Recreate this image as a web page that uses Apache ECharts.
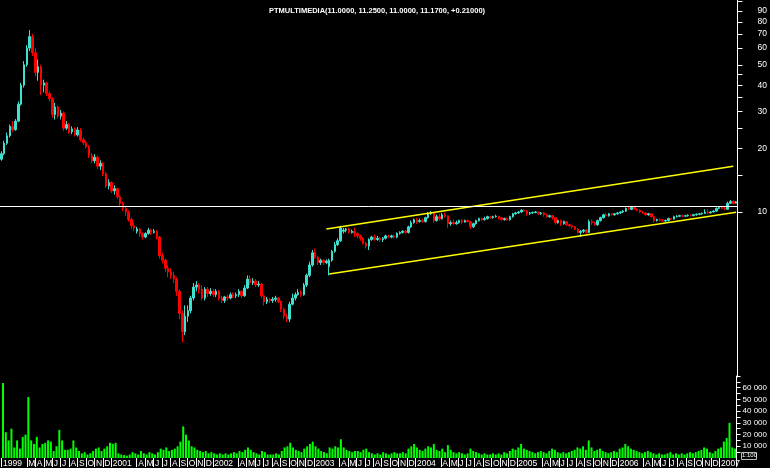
<!DOCTYPE html>
<html><head><meta charset="utf-8">
<script src="https://cdn.jsdelivr.net/npm/echarts@6/dist/echarts.min.js"></script>
<style>html,body{margin:0;padding:0;background:#000}#c{width:770px;height:468px}</style>
</head><body><div id="c"></div>
<script>
const titleText = 'PTMULTIMEDIA(11.0000, 11.2500, 11.0000, 11.1700, +0.21000)';
// one entry per month, Dec 1999 .. Feb 2007
const monthLabels = ['1999',
 '2000','F','M','A','M','J','J','A','S','O','N','D',
 '2001','F','M','A','M','J','J','A','S','O','N','D',
 '2002','F','M','A','M','J','J','A','S','O','N','D',
 '2003','F','M','A','M','J','J','A','S','O','N','D',
 '2004','F','M','A','M','J','J','A','S','O','N','D',
 '2005','F','M','A','M','J','J','A','S','O','N','D',
 '2006','F','M','A','M','J','J','A','S','O','N','D',
 '2007','F'];
const hiddenMonthLabels = [1,2,14,15,26,27,38,39,50,51,62,63,74,75,86];
const candlesPerMonth = 3;
// [open, close, low, high]
const candles = [
[17.8,18.9,17.5,19.4],[18.9,21.2,18.6,21.8],[21.2,23.0,20.8,23.8],
[23.0,25.5,22.6,26.0],[25.5,24.6,24.0,27.0],[24.6,27.0,24.3,27.6],
[27.0,32.5,26.8,33.5],[32.5,40,32,41],[40,50,39,52],
[50,60,49,62],[60,68,58,73],[68,57,55,70],
[57,46,44,60],[46,49,42,53],[49,40,36,50],
[40,41,37,42.5],[41,36.5,35.5,41.5],[36.5,34.5,33.5,37.5],
[34.5,29,28,35],[29,31.5,27.5,33],[31.5,28.5,27.8,32],
[28.5,29.5,27.5,30.5],[29.5,25,24.2,30],[25,26,24.5,27],
[26,24,23.5,26.5],[24,24.8,23.4,25.5],[24.8,23.2,22.8,25.2],
[23.2,24.5,22.8,25.3],[24.5,22,21.6,25],[22,21.3,20.8,22.6],
[21.3,20.4,20,21.8],[20.4,18.5,18,20.8],[18.5,17.5,17,19],
[17.5,18.2,17,18.8],[18.2,16.5,16,18.5],[16.5,17,15.8,17.6],
[17,15.2,14.8,17.3],[15.2,13.3,13,15.5],[13.3,13.8,12.8,14.3],
[13.8,12.6,12.3,14],[12.6,12.9,12.1,13.4],[12.9,11.8,11.5,13],
[11.8,11,10.7,12],[11,10.4,10.1,11.2],[10.4,10,9.6,10.7],
[10,9.2,9,10.2],[9.2,8.6,8.3,9.4],[8.6,8.4,8.1,8.9],
[8.1,8.3,7.9,8.5],[8.3,7.9,7.6,8.4],[7.9,7.6,7.4,8.0],
[7.6,7.9,7.5,8.0],[7.9,8.2,7.8,8.4],[8.2,8.0,7.8,8.3],
[8.0,8.1,7.9,8.3],[8.1,7.6,7.4,8.2],[7.6,6.2,6.0,7.7],
[6.2,5.9,5.7,6.4],[5.9,5.4,5.2,6.0],[5.4,5.2,4.9,5.6],
[5.2,5.0,4.8,5.4],[5.0,4.8,4.6,5.2],[4.8,4.2,4.0,4.9],
[4.2,3.3,3.1,4.3],[3.3,2.7,2.4,3.4],[2.7,3.2,2.6,3.6],
[3.2,3.4,3.0,3.6],[3.4,3.9,3.3,4.0],[3.9,4.4,3.8,4.6],
[4.4,4.5,4.2,4.7],[4.5,4.3,4.1,4.6],[4.3,3.9,3.8,4.5],
[3.9,4.3,3.8,4.4],[4.3,4.1,3.95,4.4],[4.1,4.2,4.0,4.35],
[4.2,4.05,3.95,4.3],[4.05,4.2,3.95,4.3],[4.2,3.9,3.8,4.25],
[3.9,3.8,3.7,4.0],[3.8,3.95,3.7,4.0],[3.95,3.9,3.8,4.05],
[3.9,4.05,3.85,4.15],[4.05,4.0,3.9,4.15],[4.0,4.05,3.9,4.15],
[4.05,4.2,3.95,4.3],[4.2,4.0,3.9,4.25],[4.0,4.35,3.95,4.5],
[4.35,4.8,4.3,5.0],[4.8,4.6,4.5,5.0],[4.6,4.7,4.5,4.85],
[4.7,4.5,4.4,4.8],[4.5,4.55,4.4,4.7],[4.55,4.0,3.9,4.6],
[4.0,3.75,3.6,4.05],[3.75,3.85,3.65,3.95],[3.85,3.8,3.7,3.9],
[3.8,3.85,3.7,3.95],[3.85,3.9,3.75,4.0],[3.9,3.75,3.7,3.95],
[3.75,3.45,3.35,3.8],[3.45,3.2,3.1,3.5],[3.2,3.1,3.0,3.3],
[3.1,3.65,3.0,3.75],[3.65,3.9,3.6,4.1],[3.9,4.05,3.8,4.15],
[4.05,4.15,4.0,4.3],[4.15,4.05,3.95,4.25],[4.05,4.5,4.0,4.6],
[4.5,5.0,4.4,5.1],[5.0,5.6,4.9,5.8],[5.6,6.4,5.5,6.6],
[6.4,6.1,6.0,6.7],[6.1,5.75,5.6,6.2],[5.75,5.9,5.6,6.0],
[5.9,5.75,5.6,5.95],[5.75,5.85,5.65,5.95],[5.5,5.9,5.0,6.0],
[5.9,6.5,5.8,6.6],[6.5,7.0,6.4,7.2],[7.0,7.3,6.9,7.5],
[7.3,8.4,7.2,8.6],[8.1,8.2,7.9,8.4],[8.2,8.3,8.0,8.4],
[8.3,8.0,7.9,8.4],[8.0,8.1,7.9,8.25],[8.1,7.9,7.6,8.4],
[7.9,7.7,7.5,8.0],[7.7,7.5,7.3,7.8],[7.5,7.1,7.0,7.6],
[7.1,6.9,6.7,7.2],[6.9,7.4,6.6,7.5],[7.4,7.6,7.3,7.7],
[7.6,7.4,7.3,7.8],[7.4,7.5,7.3,7.7],[7.5,7.4,7.2,7.6],
[7.4,7.5,7.2,7.6],[7.5,7.7,7.4,7.8],[7.7,7.6,7.5,7.8],
[7.6,7.7,7.5,7.8],[7.7,7.6,7.5,7.8],[7.6,7.9,7.5,8.0],
[7.9,8.0,7.8,8.1],[8.0,8.1,7.9,8.2],[8.1,8.0,7.9,8.2],
[8.0,8.5,7.9,8.6],[8.5,8.9,8.4,9.1],[8.9,9.2,8.8,9.3],
[9.2,9.0,8.8,9.4],[9.0,9.1,8.9,9.3],[9.1,9.0,8.9,9.3],
[9.0,9.4,8.9,9.5],[9.4,9.8,9.3,10.0],[9.8,9.9,9.7,10.1],
[9.9,9.1,8.9,10.0],[9.1,9.5,9.0,9.7],[9.5,9.3,9.1,9.8],
[9.3,9.7,9.2,9.9],[9.7,9.6,9.4,9.9],[9.6,8.8,8.4,9.6],
[8.8,8.9,8.6,9.1],[8.9,8.8,8.7,9.2],[8.8,8.9,8.7,9.1],
[8.9,9.1,8.8,9.2],[9.1,8.95,8.8,9.25],[8.95,9.1,8.9,9.2],
[9.1,9.0,8.9,9.2],[9.0,8.5,8.3,9.05],[8.5,8.8,8.4,8.9],
[8.8,9.1,8.7,9.2],[9.1,9.3,9.0,9.4],[9.3,9.2,9.1,9.4],
[9.2,9.3,9.1,9.5],[9.3,9.5,9.2,9.6],[9.5,9.4,9.3,9.6],
[9.4,9.5,9.3,9.6],[9.5,9.55,9.4,9.7],[9.55,9.4,9.2,9.6],
[9.4,9.2,9.1,9.5],[9.2,9.3,9.1,9.4],[9.3,9.2,9.1,9.4],
[9.2,9.5,9.1,9.6],[9.5,9.8,9.4,9.9],[9.8,9.9,9.7,10.0],
[9.9,10.0,9.8,10.1],[10.0,10.2,9.9,10.3],[10.2,10.1,10.0,10.3],
[10.1,9.8,9.6,10.2],[9.8,9.9,9.7,10.0],[9.9,9.95,9.8,10.05],
[9.95,10.0,9.85,10.1],[10.0,9.8,9.7,10.05],[9.8,9.9,9.7,10.0],
[9.9,9.7,9.5,10.0],[9.7,9.5,9.4,9.8],[9.5,9.6,9.4,9.7],
[9.6,9.4,9.2,9.7],[9.4,8.9,8.7,9.45],[8.9,9.1,8.8,9.2],
[9.1,8.8,8.6,9.2],[8.8,9.0,8.7,9.1],[9.0,8.7,8.6,9.05],
[8.7,8.6,8.45,8.8],[8.6,8.5,8.3,8.7],[8.5,8.3,8.2,8.55],
[8.3,8.0,7.9,8.35],[8.0,8.1,7.6,8.2],[8.1,8.2,7.95,8.3],
[8.2,8.0,7.9,8.3],[8.0,9.0,7.95,9.2],[9.0,8.9,8.7,9.2],
[8.9,8.7,8.6,9.0],[8.7,9.1,8.6,9.2],[9.1,9.4,9.0,9.5],
[9.4,9.7,9.3,9.8],[9.7,9.6,9.5,9.9],[9.6,9.8,9.5,9.9],
[9.8,9.7,9.6,9.9],[9.7,9.8,9.6,9.9],[9.8,9.9,9.7,10.0],
[9.9,10.0,9.8,10.1],[10.0,10.1,9.9,10.2],[10.1,10.4,10.0,10.5],
[10.4,10.3,10.2,10.6],[10.3,10.5,10.2,10.6],[10.5,10.3,10.2,10.6],
[10.3,10.2,10.1,10.4],[10.2,10.0,9.9,10.3],[10.0,9.9,9.8,10.1],
[9.9,9.7,9.6,10.0],[9.7,9.8,9.6,9.9],[9.8,9.5,9.4,9.85],
[9.5,9.1,8.9,9.55],[9.1,9.2,9.0,9.3],[9.2,9.15,9.0,9.3],
[9.15,9.05,9.0,9.25],[9.05,9.1,8.95,9.2],[9.1,9.3,9.0,9.4],
[9.3,9.25,9.15,9.35],[9.25,9.5,9.2,9.6],[9.5,9.55,9.4,9.65],
[9.55,9.6,9.45,9.7],[9.6,9.55,9.45,9.7],[9.55,9.6,9.5,9.7],
[9.6,9.65,9.5,9.75],[9.65,9.6,9.5,9.75],[9.6,9.7,9.55,9.8],
[9.7,9.75,9.6,9.85],[9.75,9.8,9.65,9.9],[9.8,9.85,9.7,9.95],
[9.85,10.0,9.8,10.3],[10.0,9.9,9.8,10.3],[9.9,10.0,9.85,10.1],
[10.0,10.1,9.95,10.2],[10.1,10.4,10.0,10.5],[10.4,10.5,10.3,10.6],
[10.5,10.4,10.3,10.7],[10.4,10.3,10.2,10.6],[10.3,11.0,10.25,11.2],
[11.0,11.2,10.9,11.4],[11.2,10.96,10.9,11.35],[11.0,11.17,11.0,11.25]
];
// volume in hundreds (scale 1:100)
const volumes = [
64000,22000,15000,25000,9000,15000,8000,18000,20000,52000,
15000,12000,18000,9000,12000,13000,15000,14000,6000,10000,
24000,15000,7000,7000,8000,15000,9000,6000,4000,5000,
3000,4000,6000,8000,9000,6000,8000,10000,13000,12000,
13000,4000,3000,2500,2000,3000,5000,4000,3000,6000,
4000,3000,5000,4000,3000,5000,8000,7000,9000,6000,
7000,8000,10000,14000,27000,20000,15000,10000,9000,7000,
6000,5000,6000,4000,5000,4000,3000,4000,3000,4000,
3000,4000,5000,4000,6000,5000,7000,9000,7000,5000,
4000,3000,6000,5000,3000,3000,3000,4000,3000,6000,
9000,10000,13000,9000,7000,6000,5000,8000,10000,12000,
14000,10000,8000,6000,5000,4000,9000,8000,10000,9000,
16000,9000,7000,6000,5000,6000,6000,5000,7000,8000,
5000,4000,3000,4000,3000,5000,4000,3000,4000,5000,
4000,4000,5000,4000,8000,10000,12000,9000,7000,6000,
8000,10000,9000,12000,7000,6000,8000,5000,11000,7000,
5000,4000,5000,4000,3000,4000,8000,6000,5000,4000,
3000,4000,3000,3000,4000,3000,4000,3000,5000,4000,
6000,8000,7000,9000,12000,8000,7000,6000,5000,4000,
5000,6000,5000,4000,6000,8000,7000,5000,4000,5000,
4000,5000,6000,7000,9000,8000,10000,7000,15000,9000,
6000,7000,8000,6000,5000,4000,5000,6000,5000,8000,
9000,12000,10000,8000,7000,6000,5000,4000,5000,6000,
5000,4000,3000,4000,3000,3000,4000,5000,3000,4000,
3000,4000,3000,4000,5000,4000,5000,6000,7000,9000,
8000,5000,4000,6000,8000,9000,14000,17000,30000,9000,
8000
];
const priceTickValues = [10,15,20,25,30,35,40,45,50,60,70,80,90,100];
const priceLabelValues = [10,20,30,40,50,60,70,80,90];
const volumeTickValues = [5000,10000,15000,20000,25000,30000,35000,40000,45000,50000,55000,60000,65000,70000];
const volumeLabelValues = [10000,20000,30000,40000,50000,60000];
const channelUpper = [[115, 8.30], [259, 16.5]];
const channelLower = [[116, 5.08], [260, 9.98]];
const referenceLevel = 10.68;

const cats = [], labelAt = {};
monthLabels.forEach((lab, m) => {
  for (let k = 0; k < candlesPerMonth; k++) {
    const idx = cats.length;
    cats.push(m + '-' + k);
    if (k === 0 && hiddenMonthLabels.indexOf(m) < 0) labelAt[idx] = lab;
  }
});
const shown = (i) => labelAt[i] !== undefined;
const FONT = "'Liberation Sans','Arial',sans-serif";
const fmtThousands = (v) => {
  const s = String(Math.round(v));
  return s.length > 3 ? s.slice(0, s.length - 3) + ' ' + s.slice(-3) : s;
};

const chart = echarts.init(document.getElementById('c'), null, {renderer: 'canvas'});
chart.setOption({
  backgroundColor: '#000',
  animation: false,
  title: {text: titleText, left: 264, top: 2, textStyle: {color: '#fff', fontSize: 7.5, fontWeight: 'bold', fontFamily: FONT}},
  grid: [
    {left: 0, right: 30, top: 0, height: 377},
    {left: 0, right: 30, top: 376, height: 83}
  ],
  xAxis: [
    {type: 'category', gridIndex: 0, data: cats, boundaryGap: true, show: false},
    {type: 'category', gridIndex: 1, data: cats, boundaryGap: true,
     axisLine: {show: false},
     axisTick: {show: true, interval: (i) => shown(i), length: 9, lineStyle: {color: '#fff'}},
     axisLabel: {interval: (i) => shown(i), formatter: (v, i) => labelAt[i] || '', color: '#fff', fontSize: 8.5,
       fontFamily: FONT, align: 'left', margin: 1}}
  ],
  yAxis: [
    {type: 'log', gridIndex: 0, position: 'right', min: 1.646, max: 101.5, logBase: 10,
     axisLine: {show: true, lineStyle: {color: '#fff'}},
     axisTick: {show: true, customValues: priceTickValues, length: 5, lineStyle: {color: '#fff'}},
     axisLabel: {customValues: priceLabelValues, color: '#fff', fontSize: 8.5, fontFamily: FONT, margin: 20},
     splitLine: {show: false}},
    {type: 'value', gridIndex: 1, position: 'right', min: 0, max: 70000,
     axisLine: {show: true, lineStyle: {color: '#fff'}},
     axisTick: {show: true, customValues: volumeTickValues, length: 4, lineStyle: {color: '#fff'}},
     axisLabel: {customValues: volumeLabelValues, color: '#fff', fontSize: 8, fontFamily: FONT, margin: 6,
       formatter: fmtThousands},
     splitLine: {show: false}}
  ],
  graphic: [
    {type: 'rect', left: 741, top: 452, shape: {width: 15, height: 7}, style: {fill: '#000', stroke: '#bbb', lineWidth: 1}},
    {type: 'text', left: 742, top: 452, style: {text: '1:100', fill: '#fff', fontSize: 6, fontFamily: FONT}}
  ],
  series: [
    {type: 'candlestick', xAxisIndex: 0, yAxisIndex: 0, data: candles, barWidth: 2,
     itemStyle: {color: '#40E0D0', color0: '#FF0000', borderColor: '#40E0D0', borderColor0: '#FF0000', borderWidth: 1},
     markLine: {silent: true, symbol: ['none', 'none'], label: {show: false}, animation: false,
       data: [
         [{coord: channelUpper[0]}, {coord: channelUpper[1]}],
         [{coord: channelLower[0]}, {coord: channelLower[1]}],
         {yAxis: referenceLevel, lineStyle: {color: '#fff', width: 1, type: 'solid'}}
       ],
       lineStyle: {color: '#FFFF00', width: 1.5, type: 'solid'}}},
    {type: 'bar', xAxisIndex: 1, yAxisIndex: 1, data: volumes, barWidth: 2,
     itemStyle: {color: '#00FF00'}}
  ]
});
</script></body></html>
